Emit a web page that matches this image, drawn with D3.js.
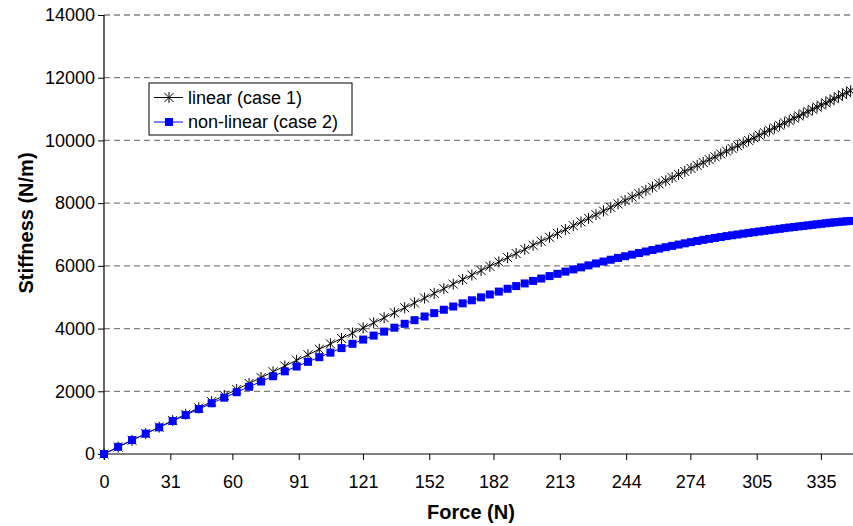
<!DOCTYPE html>
<html>
<head>
<meta charset="utf-8">
<script src="https://cdn.jsdelivr.net/npm/d3@7"></script>
<style>
body { margin: 0; background: #fff; }
svg text { font-family: "Liberation Sans", Arial, sans-serif; fill: #000; }
</style>
</head>
<body>
<div id="chart"></div>
<script>
// force values (N) of each measured point
var force = [0, 6.6, 13.1, 19.5, 25.8, 32.1, 38.2, 44.3, 50.3, 56.2,
  62.0, 67.8, 73.4, 79.0, 84.5, 90.0, 95.3, 100.6, 105.8, 111.0,
  116.1, 121.1, 126.0, 130.9, 135.7, 140.5, 145.1, 149.8, 154.3, 158.8,
  163.2, 167.6, 171.9, 176.2, 180.3, 184.5, 188.6, 192.6, 196.6, 200.5,
  204.3, 208.2, 211.9, 215.6, 219.3, 222.9, 226.4, 229.9, 233.4, 236.8,
  240.2, 243.5, 246.8, 250.0, 253.2, 256.3, 259.4, 262.5, 265.5, 268.5,
  271.4, 274.3, 277.2, 280.0, 282.8, 285.5, 288.2, 290.9, 293.5, 296.1,
  298.7, 301.2, 303.7, 306.2, 308.6, 311.0, 313.3, 315.7, 318.0, 320.2,
  322.5, 324.7, 326.8, 329.0, 331.1, 333.2, 335.2, 337.3, 339.3, 341.2,
  343.2, 345.1, 347.0, 348.9];

var linearCase = [0, 219, 435, 647, 857, 1066, 1268, 1471, 1670, 1866,
  2058, 2251, 2437, 2623, 2805, 2988, 3164, 3340, 3513, 3685,
  3855, 4021, 4183, 4346, 4505, 4665, 4817, 4973, 5123, 5272,
  5418, 5564, 5707, 5850, 5986, 6125, 6262, 6394, 6527, 6657,
  6783, 6912, 7035, 7158, 7281, 7400, 7516, 7633, 7749, 7862,
  7975, 8084, 8194, 8300, 8406, 8509, 8612, 8715, 8815, 8914,
  9010, 9107, 9203, 9296, 9389, 9479, 9568, 9658, 9744, 9831,
  9917, 10000, 10083, 10166, 10246, 10325, 10402, 10481, 10558, 10631,
  10707, 10780, 10850, 10923, 10993, 11062, 11129, 11198, 11265, 11328,
  11394, 11457, 11520, 11583];

var nonLinearCase = [0, 228, 444, 649, 851, 1051, 1243, 1433, 1619, 1796,
  1970, 2144, 2312, 2480, 2636, 2790, 2938, 3087, 3232, 3377,
  3515, 3649, 3776, 3903, 4028, 4152, 4268, 4385, 4493, 4601,
  4704, 4805, 4902, 4996, 5087, 5179, 5269, 5355, 5439, 5520,
  5596, 5674, 5746, 5816, 5887, 5952, 6015, 6078, 6138, 6196,
  6253, 6306, 6359, 6410, 6458, 6505, 6551, 6595, 6637, 6679,
  6718, 6756, 6794, 6830, 6861, 6891, 6920, 6949, 6975, 7001,
  7027, 7051, 7073, 7096, 7117, 7139, 7160, 7181, 7202, 7222,
  7240, 7258, 7274, 7292, 7309, 7326, 7342, 7358, 7374, 7387,
  7399, 7411, 7422, 7433];

var xTicks = [0, 31, 60, 91, 121, 152, 182, 213, 244, 274, 305, 335];
var yTicks = [0, 2000, 4000, 6000, 8000, 10000, 12000, 14000];
var seriesNames = ["linear (case 1)", "non-linear (case 2)"];

var width = 853, height = 526;
var plot = {left: 104, right: 853, top: 15, bottom: 454};

var svg = d3.select("#chart").append("svg")
  .attr("width", width)
  .attr("height", height);

var x = d3.scaleLinear().domain([0, 350]).range([plot.left, plot.right]);
var y = d3.scaleLinear().domain([0, 14000]).range([plot.bottom, plot.top]);

// gridlines
svg.append("g").selectAll("line")
  .data(yTicks.filter(function(d) { return d > 0; }))
  .enter().append("line")
  .attr("x1", plot.left).attr("x2", plot.right)
  .attr("y1", function(d) { return y(d); })
  .attr("y2", function(d) { return y(d); })
  .attr("stroke", "#808080")
  .attr("stroke-width", 1.3)
  .attr("stroke-dasharray", "6,4");

// axes
var yAxis = svg.append("g")
  .attr("transform", "translate(" + plot.left + ",0)")
  .call(d3.axisLeft(y).tickValues(yTicks).tickSize(6).tickPadding(3).tickFormat(d3.format("d")));
var xAxis = svg.append("g")
  .attr("transform", "translate(0," + plot.bottom + ")")
  .call(d3.axisBottom(x).tickValues(xTicks).tickSize(6).tickPadding(15).tickFormat(d3.format("d")));

[xAxis, yAxis].forEach(function(a) {
  a.attr("font-size", 18).attr("font-family", null);
  a.select(".domain").attr("stroke", "#000").attr("stroke-width", 1.2);
  a.selectAll(".tick line").attr("stroke", "#000");
  a.selectAll(".tick text").style("font-size", "18px");
});
xAxis.select(".domain").attr("d", "M" + plot.left + ",0H" + plot.right);
yAxis.select(".domain").attr("d", "M0," + plot.top + "V" + plot.bottom);

// axis titles
svg.append("text")
  .attr("x", 471).attr("y", 519)
  .attr("text-anchor", "middle")
  .style("font-size", "20px").style("font-weight", "bold")
  .text("Force (N)");

svg.append("text")
  .attr("transform", "translate(33,223) rotate(-90)")
  .attr("text-anchor", "middle")
  .style("font-size", "20px").style("font-weight", "bold")
  .text("Stiffness (N/m)");

var starPath = "M-4.5,-4.5L4.5,4.5M-4.5,4.5L4.5,-4.5M0,-5.5L0,5.5";

svg.append("clipPath").attr("id", "clip")
  .append("rect").attr("x", plot.left - 6).attr("y", 0)
  .attr("width", plot.right - plot.left + 6).attr("height", height);

var plotArea = svg.append("g").attr("clip-path", "url(#clip)");

var lineGen = function(vals) {
  return d3.line()
    .x(function(d, i) { return x(force[i]); })
    .y(function(d) { return y(d); })(vals);
};

// linear series
plotArea.append("path")
  .attr("d", lineGen(linearCase))
  .attr("fill", "none").attr("stroke", "#000").attr("stroke-width", 1);
plotArea.append("g").selectAll("path")
  .data(linearCase)
  .enter().append("path")
  .attr("transform", function(d, i) { return "translate(" + x(force[i]) + "," + y(d) + ")"; })
  .attr("d", starPath)
  .attr("fill", "none").attr("stroke", "#000").attr("stroke-width", 1);

// non-linear series
plotArea.append("path")
  .attr("d", lineGen(nonLinearCase))
  .attr("fill", "none").attr("stroke", "#0000ff").attr("stroke-width", 1);
plotArea.append("g").selectAll("rect")
  .data(nonLinearCase)
  .enter().append("rect")
  .attr("x", function(d, i) { return x(force[i]) - 4; })
  .attr("y", function(d) { return y(d) - 4; })
  .attr("width", 8).attr("height", 8)
  .attr("fill", "#0000ff");

// legend
var legend = svg.append("g").attr("transform", "translate(149,83)");
legend.append("rect")
  .attr("width", 203).attr("height", 52)
  .attr("fill", "#fff").attr("stroke", "#000").attr("stroke-width", 1);

var items = legend.selectAll(".item")
  .data(seriesNames)
  .enter().append("g")
  .attr("class", "item")
  .attr("transform", function(d, i) { return "translate(0," + (14.5 + i * 24.5) + ")"; });

items.append("line")
  .attr("x1", 5).attr("x2", 34)
  .attr("stroke", function(d, i) { return i === 0 ? "#000" : "#0000ff"; })
  .attr("stroke-width", 1);
items.filter(function(d, i) { return i === 0; }).append("path")
  .attr("transform", "translate(20,0)")
  .attr("d", starPath)
  .attr("fill", "none").attr("stroke", "#000");
items.filter(function(d, i) { return i === 1; }).append("rect")
  .attr("x", 16).attr("y", -4).attr("width", 8).attr("height", 8)
  .attr("fill", "#0000ff");
items.append("text")
  .attr("x", 39).attr("dy", "0.35em")
  .style("font-size", "18px")
  .text(function(d) { return d; });
</script>
</body>
</html>
